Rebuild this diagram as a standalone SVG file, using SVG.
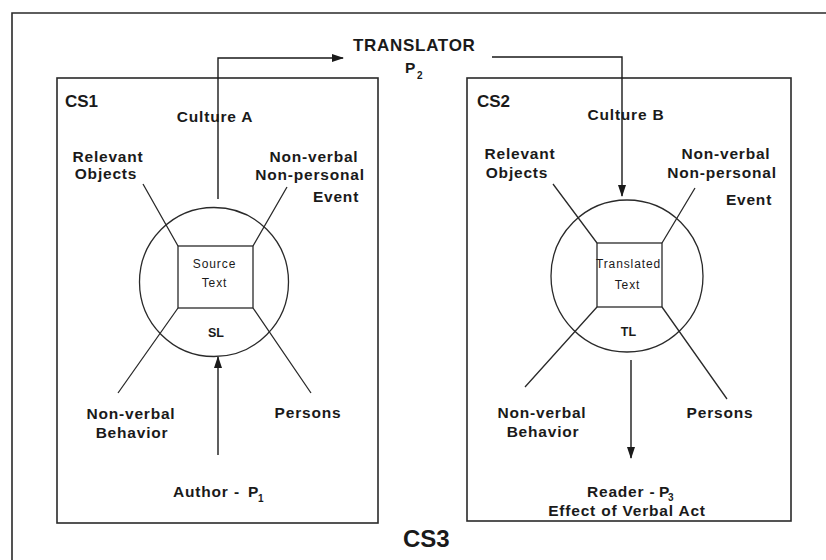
<svg xmlns="http://www.w3.org/2000/svg" width="826" height="560" viewBox="0 0 826 560">
<style>
text{font-family:"Liberation Sans",Arial,Helvetica,sans-serif;font-weight:bold;fill:#1a1a1a}
.lbl{font-size:15.5px;letter-spacing:0.8px;text-anchor:middle}
.cs{font-size:17px}
.small{font-size:12px;font-weight:normal;letter-spacing:0.9px;text-anchor:middle}
.lang{font-size:12.5px;text-anchor:middle}
.sub{font-size:10px}
.frame{fill:none;stroke:#2a2a2a;stroke-width:1.6}
.ln{fill:none;stroke:#2a2a2a;stroke-width:1.3}
.conn{fill:none;stroke:#1a1a1a;stroke-width:1.4}
</style>
<defs>
<marker id="ah" markerWidth="12" markerHeight="8" refX="11" refY="4" orient="auto" markerUnits="userSpaceOnUse">
<path d="M0,0 L12,4 L0,8 Z" fill="#1a1a1a"/>
</marker>
</defs>
<rect width="826" height="560" fill="#ffffff"/>
<g id="cs3-frame">
<path class="frame" d="M12,560 V13 H826"/>
<text x="403" y="547" style="font-size:24px">CS3</text>
</g>
<g id="translator">
<text x="353" y="51" style="font-size:17px;letter-spacing:0.7px">TRANSLATOR</text>
<text x="405" y="73" style="font-size:15.5px">P</text>
<text x="417" y="79" class="sub">2</text>
</g>
<g id="cs1">
<rect class="frame" x="57" y="78" width="321" height="445"/>
<text x="65" y="107" class="cs">CS1</text>
<text x="215" y="122" class="lbl">Culture A</text>
<text x="108" y="162" class="lbl">Relevant</text>
<text x="106" y="179" class="lbl">Objects</text>
<text x="314" y="162" class="lbl">Non-verbal</text>
<text x="310" y="180" class="lbl">Non-personal</text>
<text x="336" y="202" class="lbl">Event</text>
<text x="131" y="419" class="lbl">Non-verbal</text>
<text x="132" y="438" class="lbl">Behavior</text>
<text x="308" y="418" class="lbl">Persons</text>
<text x="173" y="497" style="font-size:15.5px;letter-spacing:0.8px">Author</text>
<text x="234" y="497" style="font-size:15.5px">-</text>
<text x="248" y="497" style="font-size:15.5px">P</text>
<text x="258" y="502" class="sub">1</text>
</g>
<g id="source-circle">
<circle class="ln" cx="214" cy="282" r="74.5"/>
<rect class="ln" x="178" y="246" width="75" height="62"/>
<path class="ln" d="M143,184 L178,246 M287,187 L253,246 M178,308 L118,393 M253,308 L311,393"/>
<text x="214.5" y="268" class="small">Source</text>
<text x="214.5" y="287" class="small">Text</text>
<text x="216" y="337" class="lang">SL</text>
</g>
<g id="cs2">
<rect class="frame" x="467" y="78" width="324" height="443"/>
<text x="477" y="107" class="cs">CS2</text>
<text x="626" y="120" class="lbl">Culture B</text>
<text x="520" y="159" class="lbl">Relevant</text>
<text x="517" y="178" class="lbl">Objects</text>
<text x="726" y="159" class="lbl">Non-verbal</text>
<text x="722" y="178" class="lbl">Non-personal</text>
<text x="749" y="205" class="lbl">Event</text>
<text x="542" y="418" class="lbl">Non-verbal</text>
<text x="543" y="437" class="lbl">Behavior</text>
<text x="720" y="418" class="lbl">Persons</text>
<text x="587" y="497" style="font-size:15.5px;letter-spacing:0.8px">Reader -</text>
<text x="659" y="497" style="font-size:15.5px">P</text>
<text x="668" y="501" class="sub">3</text>
<text x="627" y="516" class="lbl">Effect of Verbal Act</text>
</g>
<g id="target-circle">
<circle class="ln" cx="627" cy="276" r="76"/>
<rect class="ln" x="597" y="243" width="65" height="64"/>
<path class="ln" d="M553,184 L597,243 M695,188 L662,243 M597,307 L525,387 M662,307 L727,399"/>
<text x="628.5" y="268" class="small">Translated</text>
<text x="627.5" y="289" class="small">Text</text>
<text x="628.5" y="336" class="lang">TL</text>
</g>
<g id="connectors">
<path class="conn" d="M218,199 V58 H343" marker-end="url(#ah)"/>
<path class="conn" d="M492,57 H622 V196" marker-end="url(#ah)"/>
<path class="conn" d="M218,455 V357" marker-end="url(#ah)"/>
<path class="conn" d="M631,360 V458" marker-end="url(#ah)"/>
</g>
</svg>
